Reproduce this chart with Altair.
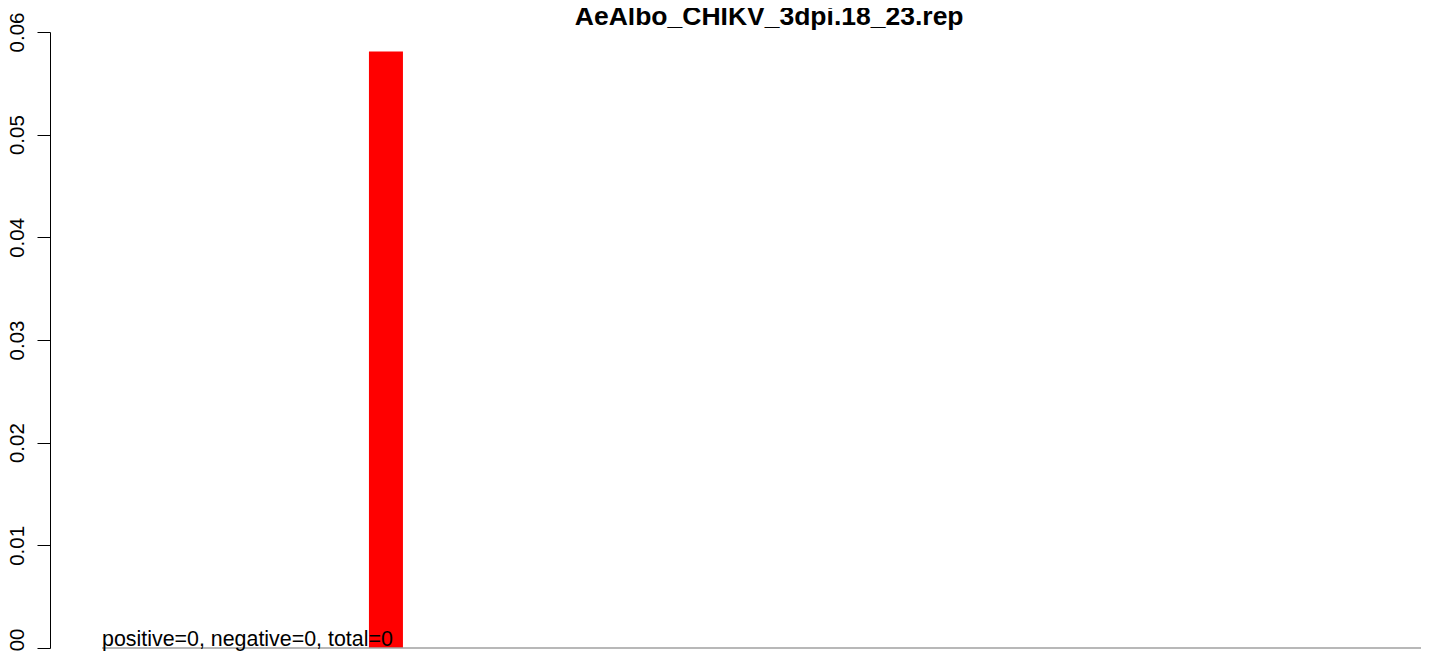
import altair as alt
import pandas as pd

# data
bar_left = [9.38]
bar_right = [10.38]
bar_value = [0.0581]
baseline_start = [1.53]
baseline_end = [40.32]
note_text = ["positive=0, negative=0, total=0"]
title_text = ["AeAlbo_CHIKV_3dpi.18_23.rep"]
title_center = [21.15]
y_ticks = [0.0, 0.01, 0.02, 0.03, 0.04, 0.05, 0.06]

W = 1371
H = 616
xdom = [0, 40.32]

bars = pd.DataFrame({"x0": bar_left, "x1": bar_right, "v": bar_value})
base = pd.DataFrame({"x0": baseline_start, "x1": baseline_end, "y": [0.0]})
note = pd.DataFrame({"x": baseline_start, "y": [0.0], "t": note_text})
ttl = pd.DataFrame({"x": title_center, "t": title_text})

xs = alt.Scale(domain=xdom, nice=False, zero=False)
ys = alt.Scale(domain=[0, 0.06], nice=False)

bar_layer = alt.Chart(bars).mark_rect(color="#FF0000").encode(
    x=alt.X("x0:Q", scale=xs, axis=None),
    x2="x1:Q",
    y=alt.Y("v:Q", scale=ys, axis=alt.Axis(
        values=y_ticks, format=".2f", title=None, grid=False,
        labelAngle=-90, labelAlign="center", labelBaseline="alphabetic",
        labelPadding=13.5, tickSize=13, tickColor="black", domainColor="black",
        labelColor="black", labelFont="Liberation Sans", labelFontSize=20.5,
        tickWidth=1, domainWidth=1, labelFlush=False, labelOverlap=False)),
    y2=alt.datum(0),
)

rule_layer = alt.Chart(base).mark_rule(color="#A0A0A0", strokeWidth=1.5).encode(
    x=alt.X("x0:Q", scale=xs, axis=None),
    x2="x1:Q",
    y=alt.Y("y:Q", scale=ys),
)

text_layer = alt.Chart(note).mark_text(
    align="left", baseline="alphabetic", dy=-2, fontSize=21.4,
    font="Liberation Sans", color="black"
).encode(
    x=alt.X("x:Q", scale=xs, axis=None),
    y=alt.Y("y:Q", scale=ys),
    text="t:N",
)

title_layer = alt.Chart(ttl).mark_text(
    align="center", baseline="alphabetic", fontSize=26.5, fontWeight="bold",
    font="Liberation Sans", color="black"
).encode(
    x=alt.X("x:Q", scale=xs, axis=None),
    y=alt.value(-7),
    text="t:N",
)

chart = alt.layer(bar_layer, rule_layer, text_layer, title_layer).properties(
    width=W, height=H,
    padding={"left": 42, "top": 24, "right": 0, "bottom": 5},
    autosize=alt.AutoSizeParams(type="none"),
).configure_view(stroke=None)

chart.save("out.html", embed_options={"renderer": "svg", "actions": False})
